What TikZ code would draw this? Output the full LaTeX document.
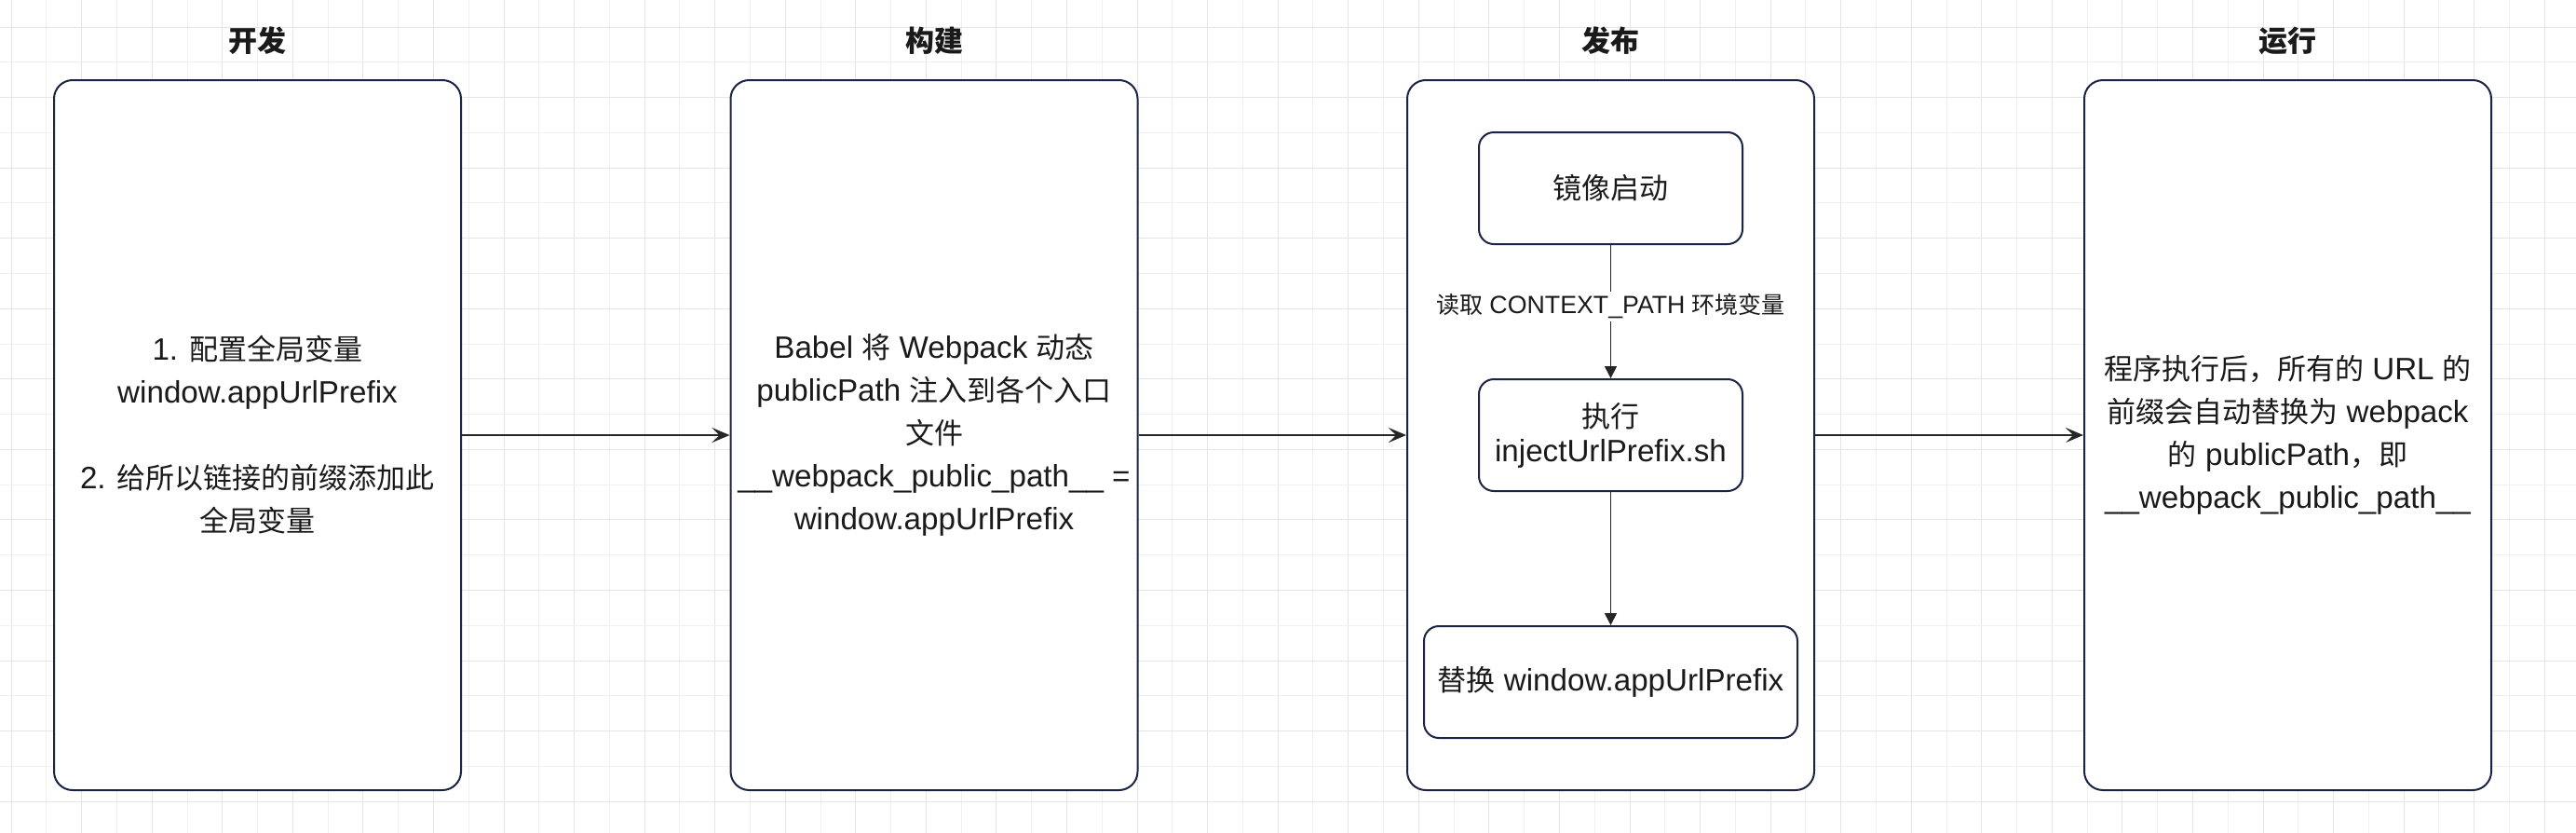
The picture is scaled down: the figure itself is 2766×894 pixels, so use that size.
\documentclass[tikz,border=0pt]{standalone}
\usepackage{fontspec}
\setmainfont{Liberation Sans}[Scale=1.07]
\newfontfamily\cjkfont{Noto Sans CJK SC}
\newcommand{\zh}[1]{{\cjkfont #1}}
\usetikzlibrary{arrows.meta, positioning, calc}

\definecolor{boxblue}{HTML}{1C2445}
\definecolor{linegray}{HTML}{262626}
\definecolor{txt}{HTML}{1A1A1A}
\definecolor{gridmajor}{HTML}{E5E5E5}
\definecolor{gridminor}{HTML}{F0F0F0}

\tikzset{
  stage/.style={draw=boxblue, line width=2pt, rounded corners=20pt, fill=white,
    minimum width=437pt, minimum height=762pt, align=center, text=txt,
    font=\fontsize{31}{46}\selectfont},
  inner/.style={draw=boxblue, line width=2pt, rounded corners=16pt, fill=white,
    minimum height=120pt, align=center, text=txt,
    font=\fontsize{31}{37}\selectfont},
  title/.style={text=txt, font=\fontsize{31}{37}\selectfont\bfseries},
  flow/.style={draw=linegray, line width=1.6pt, -{Stealth[length=19pt,width=16pt,inset=8pt]}},
  down/.style={draw=linegray, line width=1.6pt, -{Triangle[length=13pt,width=13pt]}},
  lbl/.style={fill=white, text=txt, inner sep=3pt, font=\fontsize{25}{30}\selectfont},
}

\begin{document}
\begin{tikzpicture}[x=1pt, y=-1pt]
  \useasboundingbox (0,0) rectangle (2766,894);
  \fill[white] (0,0) rectangle (2766,894);
  % grid
  \foreach \i in {0,...,72} {
    \pgfmathsetmacro{\gx}{12.1+37.78*\i}
    \ifodd\i \def\gc{gridminor}\else \def\gc{gridmajor}\fi
    \draw[color=\gc, line width=1pt] (\gx,0) -- (\gx,894);
  }
  \foreach \j in {0,...,22} {
    \pgfmathsetmacro{\gy}{29+37.78*\j}
    \ifodd\j \def\gc{gridminor}\else \def\gc{gridmajor}\fi
    \draw[color=\gc, line width=1pt] (0,\gy) -- (2766,\gy);
  }

  % four stages
  \node[stage] (dev) at (276.5,467) {1. \zh{配置全局变量}\\ window.appUrlPrefix\\[46pt]
    2. \zh{给所以链接的前缀添加此}\\ \zh{全局变量}};
  \node[stage] (build) at (1003,467) {Babel \zh{将} Webpack \zh{动态}\\
    publicPath \zh{注入到各个入口}\\ \zh{文件}\\ \_\_webpack\_public\_path\_\_ =\\
    window.appUrlPrefix};
  \node[stage] (pub) at (1729.5,467) {};
  \node[stage] (run) at (2456.5,467) {\zh{程序执行后，所有的} URL \zh{的}\\
    \zh{前缀会自动替换为} webpack\\ \zh{的} publicPath\zh{，即}\\
    \_\_webpack\_public\_path\_\_};

  % titles
  \node[title] (devt) at (276.5,44) {\zh{开发}};
  \node[title] (buildt) at (1003,44) {\zh{构建}};
  \node[title] (pubt) at (1729.5,44) {\zh{发布}};
  \node[title] (runt) at (2456.5,44) {\zh{运行}};

  % inside the publish stage
  \node[inner, minimum width=283pt] (img) at (1729.5,202) {\zh{镜像启动}};
  \node[inner, minimum width=283pt] (exec) at (1729.5,467) {\zh{执行}\\ injectUrlPrefix.sh};
  \node[inner, minimum width=401pt] (repl) at (1729.5,732) {\zh{替换} window.appUrlPrefix};

  \draw[down] (img) -- node[lbl, pos=0.46] {\zh{读取} CONTEXT\_PATH \zh{环境变量}} (exec);
  \draw[down] (exec) -- (repl);

  % between stages
  \draw[flow] (dev) -- (build);
  \draw[flow] (build) -- (pub);
  \draw[flow] (pub) -- (run);
\end{tikzpicture}
\end{document}
